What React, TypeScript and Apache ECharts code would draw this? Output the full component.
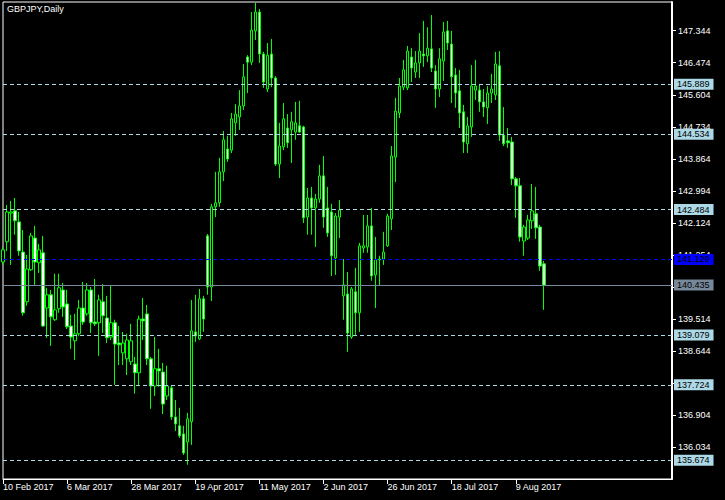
import React, { useEffect, useRef } from "react";
import * as echarts from "echarts";

const dateLabels = ["10 Feb 2017", "6 Mar 2017", "28 Mar 2017", "19 Apr 2017", "11 May 2017", "2 Jun 2017", "26 Jun 2017", "18 Jul 2017", "9 Aug 2017"];
const labelEvery = 16;
const emptySlots = 32;

const opens = [
  141.06, 141.61, 142.39, 142.45, 142.15, 141.33, 139.98, 140.85, 141.71, 141.04,
  141.31, 139.81, 140.17, 139.49, 139.79, 140.30, 139.92, 139.32, 138.92, 139.11,
  139.81, 139.65, 140.30, 139.43, 139.41, 139.98, 139.54, 139.02, 139.41, 138.86,
  138.59, 138.43, 138.35, 138.29, 138.05, 139.51, 139.65, 138.43, 137.69, 138.16,
  138.07, 137.42, 137.64, 136.85, 136.61, 136.39, 136.17, 136.72, 139.16, 138.97,
  140.06, 141.77, 140.38, 142.56, 142.67, 143.51, 144.13, 144.10, 144.84, 145.00,
  145.30, 146.63, 146.49, 147.34, 147.85, 146.71, 145.76, 146.71, 146.06, 143.72,
  144.19, 144.70, 144.65, 144.59, 144.76, 144.73, 142.28, 142.80, 142.53, 142.77,
  143.40, 142.53, 142.42, 141.17, 142.28, 140.14, 140.19, 139.02, 140.25, 139.68,
  141.44, 141.47, 142.04, 140.71, 141.12, 141.14, 141.50, 142.23, 143.91, 145.11,
  145.81, 145.79, 146.63, 146.22, 146.47, 146.71, 146.66, 146.85, 146.25, 145.76,
  146.52, 147.34, 146.98, 146.14, 145.71, 145.14, 144.27, 144.73, 145.73, 145.73,
  145.41, 145.25, 145.65, 145.60, 146.39, 144.51, 144.35, 144.32, 143.32, 143.13,
  141.63, 141.71, 142.18, 142.37, 142.01, 141.01
];
const closes = [
  141.39, 142.42, 142.42, 142.18, 141.36, 139.68, 140.87, 141.77, 141.06, 141.39,
  139.32, 140.17, 139.57, 139.76, 140.36, 139.84, 139.30, 139.02, 139.11, 139.81,
  139.43, 140.30, 139.41, 139.38, 140.03, 139.60, 139.00, 139.41, 138.83, 138.81,
  138.86, 138.94, 138.92, 138.05, 139.51, 139.46, 138.43, 137.69, 138.16, 138.10,
  137.20, 137.69, 136.85, 136.66, 136.34, 135.87, 136.80, 139.19, 139.05, 140.06,
  139.51, 140.38, 142.56, 142.67, 143.51, 144.38, 143.86, 144.95, 145.08, 145.30,
  146.09, 146.49, 147.36, 147.85, 146.71, 145.95, 146.68, 146.06, 143.72, 144.21,
  144.95, 144.30, 144.87, 144.84, 144.59, 142.26, 142.80, 142.53, 142.77, 143.40,
  142.28, 141.85, 141.23, 142.31, 142.47, 140.44, 139.13, 140.33, 139.68, 141.50,
  141.50, 142.04, 140.68, 141.12, 141.14, 141.33, 142.31, 143.94, 145.16, 145.84,
  146.28, 146.79, 146.33, 146.47, 146.79, 146.66, 146.87, 146.33, 145.76, 146.58,
  147.31, 147.01, 146.09, 145.65, 145.11, 144.32, 144.76, 145.84, 145.84, 145.41,
  145.27, 145.65, 145.76, 146.44, 144.51, 144.27, 144.30, 143.32, 143.13, 141.74,
  142.01, 142.20, 142.45, 141.99, 140.95, 140.435
];
const lows = [
  140.98, 141.36, 140.98, 141.80, 141.23, 139.60, 139.87, 140.82, 140.44, 140.76,
  139.30, 139.00, 138.78, 139.46, 139.68, 139.57, 139.24, 138.70, 138.40, 139.05,
  139.35, 139.60, 139.13, 139.32, 138.51, 139.13, 138.86, 138.94, 137.72, 138.26,
  138.26, 137.99, 138.26, 137.48, 137.69, 138.94, 138.26, 137.07, 137.42, 137.67,
  136.93, 137.31, 136.77, 136.47, 136.28, 135.82, 135.55, 136.09, 138.89, 138.94,
  139.16, 140.17, 140.00, 142.28, 142.56, 143.26, 143.78, 144.02, 144.49, 144.65,
  145.19, 145.65, 146.41, 147.09, 146.47, 145.79, 145.68, 145.81, 143.67, 143.34,
  144.10, 144.16, 143.75, 144.38, 144.57, 142.12, 141.80, 141.80, 141.47, 142.67,
  141.99, 141.74, 140.68, 140.71, 141.71, 139.49, 138.62, 138.97, 139.08, 139.16,
  141.31, 141.31, 140.55, 139.81, 140.41, 140.98, 141.47, 141.93, 143.23, 144.97,
  145.73, 145.73, 145.95, 146.06, 146.06, 146.36, 146.49, 146.22, 145.25, 145.54,
  145.98, 146.82, 145.38, 145.25, 144.70, 144.02, 144.02, 144.46, 145.46, 145.14,
  145.00, 144.81, 145.38, 145.46, 144.35, 144.21, 144.16, 143.15, 142.26, 141.61,
  141.23, 141.66, 141.96, 141.69, 140.82, 139.76
];
const highs = [
  141.47, 142.61, 142.72, 142.80, 142.42, 141.93, 141.25, 141.85, 142.04, 141.55,
  141.77, 140.36, 140.30, 140.74, 140.74, 140.49, 140.30, 139.62, 139.65, 140.03,
  140.52, 140.49, 140.38, 140.60, 140.17, 140.46, 140.14, 140.41, 139.49, 139.32,
  139.16, 139.11, 139.38, 138.48, 139.60, 140.08, 139.89, 138.48, 139.02, 138.70,
  138.32, 138.24, 137.72, 137.31, 137.10, 136.61, 136.96, 140.03, 140.17, 140.33,
  140.14, 141.82, 142.64, 143.51, 143.89, 144.62, 144.49, 145.11, 145.35, 145.73,
  146.44, 146.68, 147.85, 148.10, 147.93, 146.77, 147.01, 147.12, 146.11, 144.84,
  145.38, 145.08, 145.14, 145.41, 145.44, 144.76, 143.07, 143.10, 142.91, 143.70,
  143.94, 143.10, 142.64, 142.39, 142.74, 141.14, 140.79, 140.38, 140.90, 141.58,
  142.34, 142.34, 142.53, 141.74, 141.23, 141.88, 142.37, 144.21, 145.52, 146.06,
  146.55, 146.93, 146.87, 146.79, 147.28, 147.61, 147.44, 147.77, 146.41, 146.87,
  147.58, 147.61, 147.34, 146.33, 146.28, 145.33, 145.00, 146.41, 146.55, 145.90,
  145.76, 145.84, 146.17, 146.77, 146.79, 145.27, 144.70, 144.46, 143.37, 143.34,
  142.07, 142.34, 143.18, 143.10, 142.07, 141.09
];

const levelLines = [145.889, 144.534, 142.484, 139.079, 137.724, 135.674];
const blueLevel = 141.129;
const bidPrice = 140.435;

const tickBase = 136.034;
const tickStep = 0.87;
const priceMin = 135.164;
const priceMax = 148.124;

export default function App() {
  const ref = useRef<HTMLDivElement>(null);

  useEffect(() => {
    const chart = echarts.init(ref.current as HTMLDivElement, null, { renderer: "svg" });
    const font = "'Liberation Sans', Arial, sans-serif";
    const n = opens.length + emptySlots;
    const categories = Array.from({ length: n }, (_, i) => String(i));
    const candles = opens.map((o, i) => [o, closes[i], lows[i], highs[i]]);
    const showAt = (idx: number) => idx % labelEvery === 0 && idx / labelEvery < dateLabels.length;
    const boxLabel = (bg: string) => ({
      show: true,
      position: "end",
      distance: 2,
      formatter: (p: any) => Number(p.value).toFixed(3),
      backgroundColor: bg,
      color: "#000",
      fontSize: 9,
      fontFamily: font,
      lineHeight: 9,
      padding: [1, 4, 1, 3],
    });

    chart.setOption({
      animation: false,
      backgroundColor: "#000",
      title: {
        text: "GBPJPY,Daily",
        left: 7,
        top: 4,
        padding: 0,
        textStyle: { color: "#fff", fontSize: 9, fontWeight: "normal", fontFamily: font },
      },
      grid: {
        left: 2,
        top: 2,
        right: 53,
        bottom: 21,
        show: true,
        borderColor: "#fff",
        borderWidth: 1,
        backgroundColor: "transparent",
      },
      xAxis: {
        type: "category",
        data: categories,
        boundaryGap: false,
        axisLine: { show: true, onZero: false, lineStyle: { color: "#fff", width: 1 } },
        axisTick: {
          show: true,
          length: 5,
          interval: (idx: number) => showAt(idx),
          lineStyle: { color: "#fff" },
        },
        axisLabel: {
          show: true,
          interval: (idx: number) => showAt(idx),
          formatter: (_v: string, idx: number) => dateLabels[Math.round(idx / labelEvery)] ?? "",
          align: "left",
          color: "#fff",
          fontSize: 9,
          fontFamily: font,
          margin: 3,
        },
        splitLine: { show: false },
      },
      yAxis: [
        {
          type: "value",
          min: priceMin,
          max: priceMax,
          position: "right",
          show: false,
          splitLine: { show: false },
        },
        {
          type: "value",
          min: -tickStep,
          max: priceMax - tickBase,
          interval: tickStep,
          position: "right",
          axisLine: { show: true, onZero: false, lineStyle: { color: "#fff", width: 2 } },
          axisTick: { show: true, length: 4, lineStyle: { color: "#fff" } },
          axisLabel: {
            color: "#fff",
            fontSize: 9,
            fontFamily: font,
            margin: 6,
            showMinLabel: false,
            showMaxLabel: false,
            formatter: (v: number) => (v + tickBase).toFixed(3),
          },
          splitLine: { show: false },
        },
      ],
      series: [
        {
          type: "candlestick",
          xAxisIndex: 0,
          yAxisIndex: 0,
          data: candles,
          barWidth: 3,
          clip: true,
          itemStyle: {
            color: "#000",
            color0: "#fff",
            borderColor: "#00ff00",
            borderColor0: "#00ff00",
            borderWidth: 1,
          },
          markLine: {
            silent: true,
            symbol: ["none", "none"],
            animation: false,
            precision: 3,
            data: [
              ...levelLines.map((v) => ({
                yAxis: v,
                lineStyle: { color: "#add8e6", type: [4, 3], width: 1 },
                label: boxLabel("#add8e6"),
              })),
              {
                yAxis: blueLevel,
                lineStyle: { color: "#0000ff", type: [4, 3], width: 1 },
                label: boxLabel("#0000ff"),
              },
              {
                yAxis: bidPrice,
                lineStyle: { color: "#778899", type: "solid", width: 1 },
                label: boxLabel("#778899"),
              },
            ],
          },
        },
      ],
    });

    return () => chart.dispose();
  }, []);

  return (
    <div
      ref={ref}
      style={{ position: "fixed", left: 0, top: 0, width: 725, height: 500, background: "#000" }}
    />
  );
}
